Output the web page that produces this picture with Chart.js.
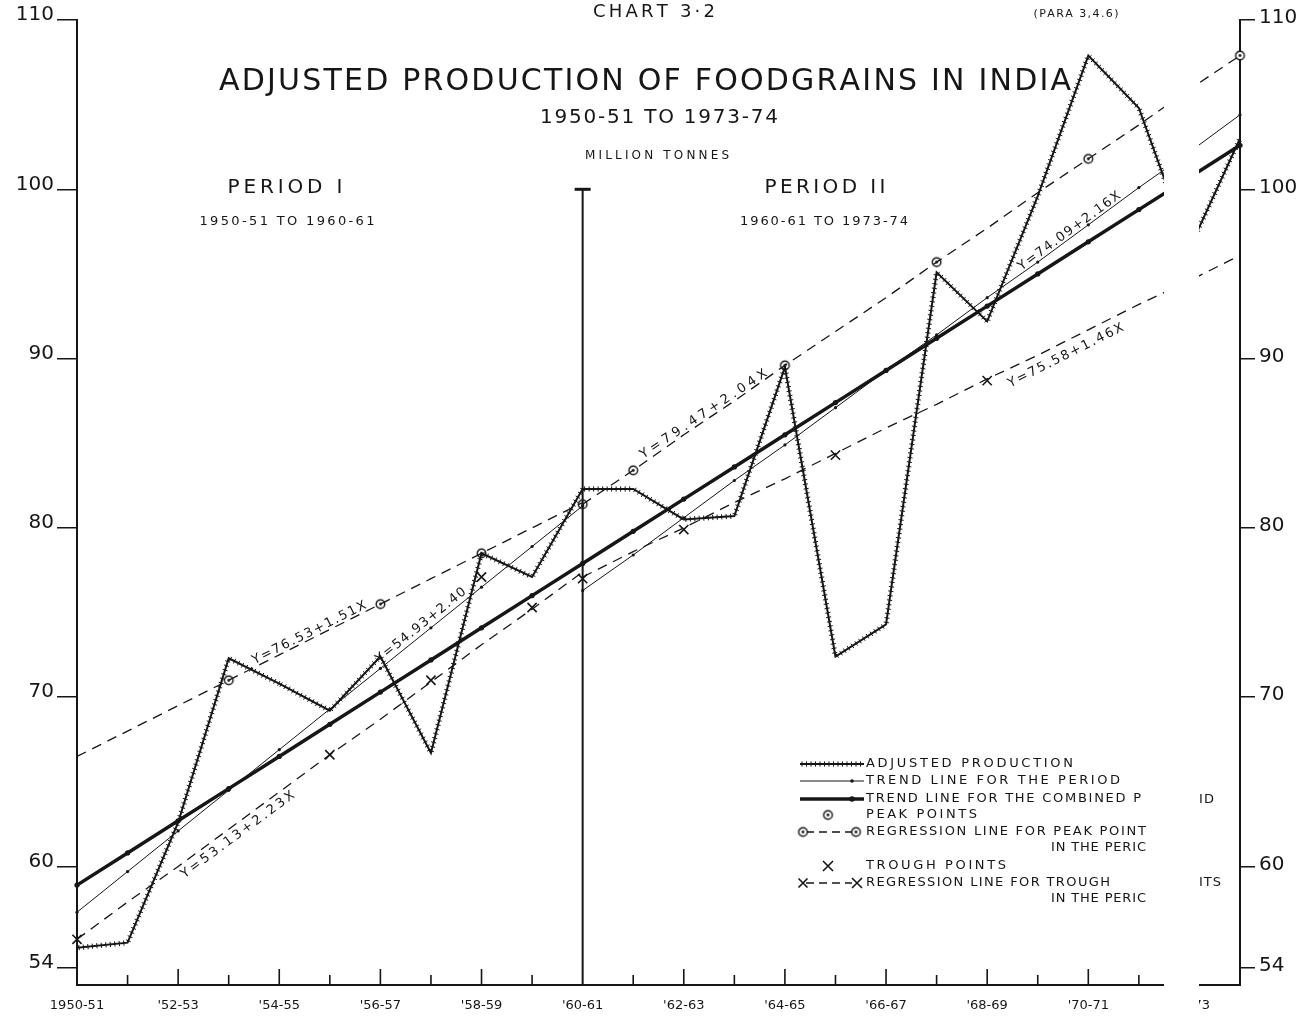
<!DOCTYPE html>
<html>
<head>
<meta charset="utf-8">
<script src="https://cdn.jsdelivr.net/npm/chart.js@4.4.1/dist/chart.umd.min.js"></script>
<style>
html,body{margin:0;padding:0;background:#fff;}
#wrap{position:relative;width:1312px;height:1017px;}
canvas{display:block;}
</style>
</head>
<body>
<div id="wrap"><canvas id="c" width="1312" height="1017"></canvas></div>
<script>
// ---------------- DATA ----------------
const years = ['1950-51','1951-52','1952-53','1953-54','1954-55','1955-56','1956-57','1957-58','1958-59','1959-60',
  '1960-61','1961-62','1962-63','1963-64','1964-65','1965-66','1966-67','1967-68','1968-69','1969-70',
  '1970-71','1971-72','1972-73','1973-74'];
const xTickLabels = ['1950-51','',"'52-53",'',"'54-55",'',"'56-57",'',"'58-59",'',"'60-61",'',
  "'62-63",'',"'64-65",'',"'66-67",'',"'68-69",'',"'70-71",'',"'72-73",''];
const yTickValues = [54,60,70,80,90,100,110];

const production = [55.2,55.5,62.6,72.3,70.8,69.2,72.4,66.7,78.5,77.1,
  82.3,82.3,80.5,80.7,89.5,72.4,74.3,95.1,92.2,99.6,107.9,104.8,96.5,103.0];
const trendCombined = [58.9,60.8,62.7,64.6,66.5,68.4,70.3,72.2,74.1,76.0,
  77.9,79.8,81.7,83.6,85.5,87.4,89.3,91.2,93.1,95.0,96.9,98.8,100.7,102.6];

const periodIYears = years.slice(0,11);
const periodIIYears = years.slice(10);
const trendPeriodI  = [57.3,59.7,62.1,64.5,66.9,69.3,71.7,74.1,76.5,78.9,81.3];
const trendPeriodII = [76.3,78.4,80.6,82.8,84.9,87.1,89.3,91.4,93.6,95.7,97.9,100.1,102.2,104.4];
const peakLineI  = [66.5,68.0,69.5,71.0,72.5,74.0,75.5,77.0,78.5,80.0,81.5];
const peakLineII = [81.4,83.4,85.5,87.5,89.6,91.6,93.6,95.7,97.7,99.8,101.8,103.8,105.9,107.9];
const troughLineI  = [55.7,57.9,60.0,62.2,64.4,66.6,68.7,70.9,73.1,75.2,77.4];
const troughLineII = [77.1,78.6,80.0,81.5,82.9,84.4,85.9,87.3,88.8,90.2,91.7,93.2,94.6,96.1];

const peakYears  = ['1953-54','1956-57','1958-59','1960-61','1961-62','1964-65','1967-68','1970-71','1973-74'];
const peakValues = [71.0,75.5,78.5,81.4,83.4,89.6,95.7,101.8,107.9];
const troughYears  = ['1950-51','1955-56','1957-58','1958-59','1959-60','1960-61','1962-63','1965-66','1968-69'];
const troughValues = [55.7,66.6,71.0,77.1,75.3,77.0,79.9,84.3,88.7];

const equationTexts = ['Y=76.53+1.51X','Y=54.93+2.40','Y=53.13+2.23X','Y=79.47+2.04X','Y=74.09+2.16X','Y=75.58+1.46X'];

// ---------------- STYLE / HELPERS ----------------
const ink = '#161616';
const FONT = '"DejaVu Sans", "Liberation Sans", sans-serif';
const pairs = (xs, ys) => xs.map((x, i) => ({x: x, y: ys[i]}));

function makePeakMarker(){
  const c = document.createElement('canvas'); c.width = 13; c.height = 13;
  const g = c.getContext('2d');
  g.strokeStyle = ink; g.lineWidth = 1.4; g.fillStyle = '#fff';
  g.beginPath(); g.arc(6.5,6.5,4.3,0,Math.PI*2); g.fill(); g.stroke();
  g.fillStyle = ink; g.beginPath(); g.arc(6.5,6.5,1.4,0,Math.PI*2); g.fill();
  return c;
}
const peakMarker = makePeakMarker();

function spaced(ctx, text, x, y, width, font, align){
  ctx.font = font;
  const chars = Array.from(text);
  const ws = chars.map(ch => ctx.measureText(ch).width);
  const total = ws.reduce((a,b)=>a+b,0);
  const extra = chars.length > 1 ? (width - total) / (chars.length - 1) : 0;
  let sx = align === 'left' ? x : (align === 'right' ? x - width : x - width/2);
  ctx.textAlign = 'left'; ctx.textBaseline = 'middle';
  chars.forEach((ch, i) => { ctx.fillText(ch, sx, y); sx += ws[i] + extra; });
}

function hatchPath(ctx, pts, step, half){
  ctx.beginPath();
  for (let i = 0; i < pts.length - 1; i++){
    const a = pts[i], b = pts[i+1];
    const dx = b.x - a.x, dy = b.y - a.y, len = Math.hypot(dx, dy);
    if (!len) continue;
    const ux = dx/len, uy = dy/len, nx = -uy, ny = ux;
    for (let t = 2; t < len; t += step){
      const px = a.x + ux*t, py = a.y + uy*t;
      ctx.moveTo(px + nx*half, py + ny*half);
      ctx.lineTo(px - nx*half, py - ny*half);
    }
  }
  ctx.stroke();
}

function labelOnLine(chart, dsIndex, px, offset, text, width, size){
  const pts = chart.getDatasetMeta(dsIndex).data;
  let i = 0;
  while (i < pts.length - 2 && pts[i+1].x < px) i++;
  const a = pts[i], b = pts[i+1];
  const t = (px - a.x) / (b.x - a.x);
  const py = a.y + (b.y - a.y) * t;
  const ang = Math.atan2(b.y - a.y, b.x - a.x);
  const ctx = chart.ctx;
  ctx.save();
  ctx.translate(px, py); ctx.rotate(ang);
  ctx.fillStyle = ink;
  spaced(ctx, text, 0, -offset, width, `${size}px ${FONT}`, 'center');
  ctx.restore();
}

// ---------------- PLUGIN ----------------
const scanPlugin = {
  id: 'scan',
  beforeDraw(chart){
    const ctx = chart.ctx;
    ctx.save(); ctx.fillStyle = '#fff'; ctx.fillRect(0,0,chart.width,chart.height); ctx.restore();
  },
  afterDatasetsDraw(chart){
    const ctx = chart.ctx;
    ctx.save();
    ctx.strokeStyle = ink; ctx.lineWidth = 1;
    hatchPath(ctx, chart.getDatasetMeta(0).data, 4.5, 2.6);
    ctx.restore();
  },
  afterDraw(chart){
    const ctx = chart.ctx, xs = chart.scales.x, ys = chart.scales.y, area = chart.chartArea;
    ctx.save();
    ctx.strokeStyle = ink; ctx.fillStyle = ink;

    // x-axis ticks pointing up
    ctx.lineWidth = 1.6;
    ctx.beginPath();
    years.forEach((yr, i) => {
      if (i === 0 || i === years.length - 1 || yr === '1960-61') return;
      const x = xs.getPixelForValue(i);
      const len = xTickLabels[i] ? 16 : 10;
      ctx.moveTo(x, area.bottom); ctx.lineTo(x, area.bottom - len);
    });
    ctx.stroke();

    // dividing line at 1960-61
    const xd = xs.getPixelForValue(years.indexOf('1960-61'));
    const yd = ys.getPixelForValue(100);
    ctx.lineWidth = 2;
    ctx.beginPath(); ctx.moveTo(xd, yd); ctx.lineTo(xd, area.bottom); ctx.stroke();
    ctx.lineWidth = 3;
    ctx.beginPath(); ctx.moveTo(xd - 8, yd); ctx.lineTo(xd + 8, yd); ctx.stroke();

    // equations along lines
    labelOnLine(chart, 4, 312, 6, equationTexts[0], 126, 13);
    labelOnLine(chart, 2, 426, 8, equationTexts[1], 112, 13);
    labelOnLine(chart, 6, 232, -10, equationTexts[2], 138, 13);
    labelOnLine(chart, 5, 707, 6, equationTexts[3], 150, 13);
    labelOnLine(chart, 3, 1073, 6, equationTexts[4], 124, 13);
    labelOnLine(chart, 7, 1060, -13, equationTexts[5], 128, 13);

    // headings
    ctx.fillStyle = ink;
    spaced(ctx, 'CHART 3·2', 654, 12, 122, `18px ${FONT}`, 'center');
    spaced(ctx, '(PARA 3,4.6)', 1076, 14, 85, `11px ${FONT}`, 'center');
    spaced(ctx, 'ADJUSTED PRODUCTION OF FOODGRAINS IN INDIA', 645, 82, 852, `30px ${FONT}`, 'center');
    spaced(ctx, '1950-51 TO 1973-74', 659, 118, 238, `20px ${FONT}`, 'center');
    spaced(ctx, 'MILLION TONNES', 657, 156, 144, `12px ${FONT}`, 'center');
    spaced(ctx, 'PERIOD I', 285, 188, 115, `20px ${FONT}`, 'center');
    spaced(ctx, '1950-51 TO 1960-61', 287, 222, 175, `13px ${FONT}`, 'center');
    spaced(ctx, 'PERIOD II', 825, 188, 121, `20px ${FONT}`, 'center');
    spaced(ctx, '1960-61 TO 1973-74', 824, 222, 168, `13px ${FONT}`, 'center');

    // legend
    const lf = `13px ${FONT}`;
    const rows = [
      {y:764, t:'ADJUSTED PRODUCTION', w:207},
      {y:781, t:'TREND LINE FOR THE PERIOD', w:254},
      {y:799, t:'TREND LINE FOR THE COMBINED P', w:275},
      {y:815, t:'PEAK POINTS', w:111},
      {y:832, t:'REGRESSION LINE FOR PEAK POINT', w:280},
      {y:866, t:'TROUGH POINTS', w:140},
      {y:883, t:'REGRESSION LINE FOR TROUGH', w:244}
    ];
    rows.forEach(r => spaced(ctx, r.t, 866, r.y, r.w, lf, 'left'));
    spaced(ctx, 'IN THE PERIC', 1146, 848, 95, lf, 'right');
    spaced(ctx, 'IN THE PERIC', 1146, 899, 95, lf, 'right');

    // legend samples
    ctx.lineWidth = 2;
    ctx.beginPath(); ctx.moveTo(800, 764); ctx.lineTo(864, 764); ctx.stroke();
    ctx.lineWidth = 1;
    hatchPath(ctx, [{x:800,y:764},{x:864,y:764}], 4.5, 2.6);
    ctx.lineWidth = 1;
    ctx.beginPath(); ctx.moveTo(800, 781); ctx.lineTo(864, 781); ctx.stroke();
    ctx.beginPath(); ctx.arc(852, 781, 1.8, 0, Math.PI*2); ctx.fill();
    ctx.lineWidth = 3.5;
    ctx.beginPath(); ctx.moveTo(800, 799); ctx.lineTo(864, 799); ctx.stroke();
    ctx.beginPath(); ctx.arc(852, 799, 2.8, 0, Math.PI*2); ctx.fill();
    ctx.drawImage(peakMarker, 828 - 6.5, 815 - 6.5);
    ctx.lineWidth = 1.3; ctx.setLineDash([8,5]);
    ctx.beginPath(); ctx.moveTo(806, 832); ctx.lineTo(852, 832); ctx.stroke();
    ctx.beginPath(); ctx.moveTo(806, 883); ctx.lineTo(852, 883); ctx.stroke();
    ctx.setLineDash([]);
    ctx.drawImage(peakMarker, 803 - 6.5, 832 - 6.5);
    ctx.drawImage(peakMarker, 856 - 6.5, 832 - 6.5);
    const cross = (x, y, r) => { ctx.beginPath(); ctx.moveTo(x-r,y-r); ctx.lineTo(x+r,y+r); ctx.moveTo(x+r,y-r); ctx.lineTo(x-r,y+r); ctx.stroke(); };
    ctx.lineWidth = 1.6;
    cross(828, 866, 5); cross(803, 883, 4.5); cross(857, 883, 5);

    // fold gap of the scanned page
    ctx.fillStyle = '#fff';
    ctx.fillRect(1164, 0, 35, chart.height);
    ctx.fillStyle = ink;
    spaced(ctx, 'ID', 1199, 800, 15, lf, 'left');
    spaced(ctx, 'ITS', 1199, 883, 22, lf, 'left');
    ctx.restore();
  }
};

// ---------------- CHART ----------------
const lineDefaults = {borderColor: ink, backgroundColor: ink, tension: 0, fill: false, pointRadius: 0};
const dashed = [10, 7];

new Chart(document.getElementById('c'), {
  type: 'line',
  data: {
    labels: years,
    datasets: [
      {...lineDefaults, label: 'Adjusted production', data: pairs(years, production), borderWidth: 2},
      {...lineDefaults, label: 'Trend line for the combined period', data: pairs(years, trendCombined), borderWidth: 3.5, pointRadius: 2.6, pointBorderWidth: 0},
      {...lineDefaults, label: 'Trend line period I', data: pairs(periodIYears, trendPeriodI), borderWidth: 1, pointRadius: 1.6, pointBorderWidth: 0},
      {...lineDefaults, label: 'Trend line period II', data: pairs(periodIIYears, trendPeriodII), borderWidth: 1, pointRadius: 1.6, pointBorderWidth: 0},
      {...lineDefaults, label: 'Peak regression I', data: pairs(periodIYears, peakLineI), borderWidth: 1.3, borderDash: dashed},
      {...lineDefaults, label: 'Peak regression II', data: pairs(periodIIYears, peakLineII), borderWidth: 1.3, borderDash: dashed},
      {...lineDefaults, label: 'Trough regression I', data: pairs(periodIYears, troughLineI), borderWidth: 1.3, borderDash: dashed},
      {...lineDefaults, label: 'Trough regression II', data: pairs(periodIIYears, troughLineII), borderWidth: 1.3, borderDash: dashed},
      {...lineDefaults, label: 'Peak points', data: pairs(peakYears, peakValues), showLine: false, pointStyle: peakMarker, pointRadius: 6},
      {...lineDefaults, label: 'Trough points', data: pairs(troughYears, troughValues), showLine: false, pointStyle: 'crossRot', pointRadius: 6.5, pointBorderWidth: 1.6, pointBorderColor: ink}
    ]
  },
  options: {
    responsive: false, animation: false, devicePixelRatio: 1,
    layout: {padding: {top: 20, left: 0, right: 0, bottom: 0}},
    plugins: {legend: {display: false}, title: {display: false}, tooltip: {enabled: false}},
    scales: {
      x: {
        type: 'category', offset: false,
        grid: {display: false, drawTicks: false},
        border: {display: true, color: ink, width: 2},
        ticks: {autoSkip: false, maxRotation: 0, padding: 13, color: ink,
          font: {family: 'DejaVu Sans', size: 13},
          callback: (v, i) => xTickLabels[i]},
        afterFit: s => { s.height = 32; }
      },
      y: {
        type: 'linear', position: 'left', min: 53, max: 110,
        afterBuildTicks: s => { s.ticks = yTickValues.map(v => ({value: v})); },
        grid: {drawOnChartArea: false, drawTicks: true, tickLength: 20, color: ink, lineWidth: 1.5},
        border: {display: true, color: ink, width: 2},
        ticks: {padding: 3, labelOffset: -5, color: ink, font: {family: 'DejaVu Sans', size: 20}},
        afterFit: s => { s.width = 77; }
      },
      y2: {
        type: 'linear', position: 'right', min: 53, max: 110,
        afterBuildTicks: s => { s.ticks = yTickValues.map(v => ({value: v})); },
        grid: {drawOnChartArea: false, drawTicks: true, tickLength: 15, color: ink, lineWidth: 1.5},
        border: {display: true, color: ink, width: 2},
        ticks: {padding: 4, labelOffset: -2, color: ink, font: {family: 'DejaVu Sans', size: 20}},
        afterFit: s => { s.width = 72; }
      }
    }
  },
  plugins: [scanPlugin]
});
</script>
</body>
</html>
